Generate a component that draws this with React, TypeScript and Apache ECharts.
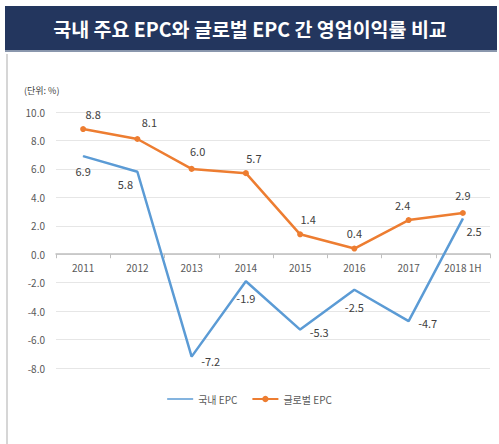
import React, { useEffect, useRef } from "react";
import * as echarts from "echarts";

const categories = ["2011", "2012", "2013", "2014", "2015", "2016", "2017", "2018 1H"];
const domesticValues = [6.9, 5.8, -7.2, -1.9, -5.3, -2.5, -4.7, 2.5];
const globalValues = [8.8, 8.1, 6.0, 5.7, 1.4, 0.4, 2.4, 2.9];
const seriesNames = ["국내 EPC", "글로벌 EPC"];
const titleText = "국내 주요 EPC와 글로벌 EPC 간 영업이익률 비교";
const unitText = "(단위: %)";

// label placement (style only)
const domesticLabelPos = ["bottom", "bottom", "right", "bottom", "right", "bottom", "right", "right"];
const domesticLabelOffset = [[0, 4], [-12, 1], [4, 4], [0, 6], [4, 2], [0, 6], [4, 2], [-2, 12]];
const globalLabelPos = ["top", "top", "top", "top", "top", "top", "top", "top"];
const globalLabelOffset = [[10, -2], [12, -4], [6, -4], [8, -2], [8, -2], [0, -2], [-6, -2], [0, -4]];

const Y_MIN = -8;
const Y_MAX = 10;
const GRID_TOP = 112;
const GRID_BOTTOM = 76;
const CHART_H = 444;

export default function App() {
  const ref = useRef<HTMLDivElement>(null);
  useEffect(() => {
    if (!ref.current) return;
    const chart = echarts.init(ref.current, null, { renderer: "svg" });
    const font = "'Noto Sans CJK KR', 'Noto Sans', sans-serif";
    const plotH = CHART_H - GRID_TOP - GRID_BOTTOM;
    const zeroOffset = -(plotH * (0 - Y_MIN)) / (Y_MAX - Y_MIN);
    const labelCfg = {
      show: true,
      color: "#404040",
      fontSize: 11,
      formatter: (p: any) => Number(p.value).toFixed(1),
    };
    chart.setOption({
      animation: false,
      backgroundColor: "#ffffff",
      textStyle: { fontFamily: font },
      graphic: [
        { type: "rect", shape: { x: 5, y: 6, width: 492, height: 44 }, style: { fill: "#23365e" } },
        { type: "rect", shape: { x: 5, y: 50, width: 492, height: 2 }, style: { fill: "#8a97ad" } },
        {
          type: "text",
          x: 250,
          y: 28,
          style: {
            text: titleText,
            fill: "#ffffff",
            font: "bold 19.5px 'Noto Sans CJK KR', sans-serif",
            textAlign: "center",
            textVerticalAlign: "middle",
          },
        },
        { type: "line", shape: { x1: 7, y1: 54, x2: 7, y2: 444 }, style: { stroke: "#c8c8c8", lineWidth: 1.5 } },
        {
          type: "text",
          x: 24,
          y: 90,
          style: {
            text: unitText,
            fill: "#404040",
            font: "9px 'Noto Sans CJK KR', sans-serif",
            textVerticalAlign: "middle",
          },
        },
      ],
      grid: { left: 56, right: 9, top: GRID_TOP, bottom: GRID_BOTTOM, containLabel: false },
      legend: {
        bottom: 35,
        left: "center",
        itemWidth: 26,
        itemHeight: 8,
        itemGap: 14,
        textStyle: { fontSize: 10, color: "#595959" },
        data: [
          { name: seriesNames[0], icon: "path://M0,4 L26,4 L26,5.5 L0,5.5 Z" },
          { name: seriesNames[1] },
        ],
      },
      xAxis: {
        type: "category",
        data: categories,
        boundaryGap: true,
        offset: zeroOffset,
        axisLine: { onZero: false, lineStyle: { color: "#bfbfbf", width: 1.5 } },
        axisTick: { show: true, length: 4, lineStyle: { color: "#bfbfbf" } },
        axisLabel: { color: "#595959", fontSize: 10, margin: 8 },
        splitLine: { show: false },
      },
      yAxis: {
        type: "value",
        min: Y_MIN,
        max: Y_MAX,
        interval: 2,
        axisLine: { show: false },
        axisTick: { show: false },
        axisLabel: { color: "#595959", fontSize: 10, margin: 11, formatter: (v: number) => v.toFixed(1) },
        splitLine: { lineStyle: { color: "#e6e6e6", width: 1 } },
      },
      series: [
        {
          name: seriesNames[0],
          type: "line",
          data: domesticValues.map((v, i) => ({
            value: v,
            label: { position: domesticLabelPos[i], offset: domesticLabelOffset[i] },
          })),
          symbol: "circle",
          symbolSize: 1,
          showSymbol: true,
          lineStyle: { color: "#5b9bd5", width: 2.5 },
          itemStyle: { color: "#5b9bd5" },
          label: labelCfg,
          z: 3,
        },
        {
          name: seriesNames[1],
          type: "line",
          data: globalValues.map((v, i) => ({
            value: v,
            label: { position: globalLabelPos[i], offset: globalLabelOffset[i] },
          })),
          symbol: "circle",
          symbolSize: 6,
          showSymbol: true,
          lineStyle: { color: "#ed7d31", width: 2.5 },
          itemStyle: { color: "#ed7d31" },
          label: labelCfg,
          z: 4,
        },
      ],
    });
    return () => chart.dispose();
  }, []);
  return (
    <div
      ref={ref}
      style={{ position: "absolute", left: 0, top: 0, width: 499, height: 444 }}
    />
  );
}
